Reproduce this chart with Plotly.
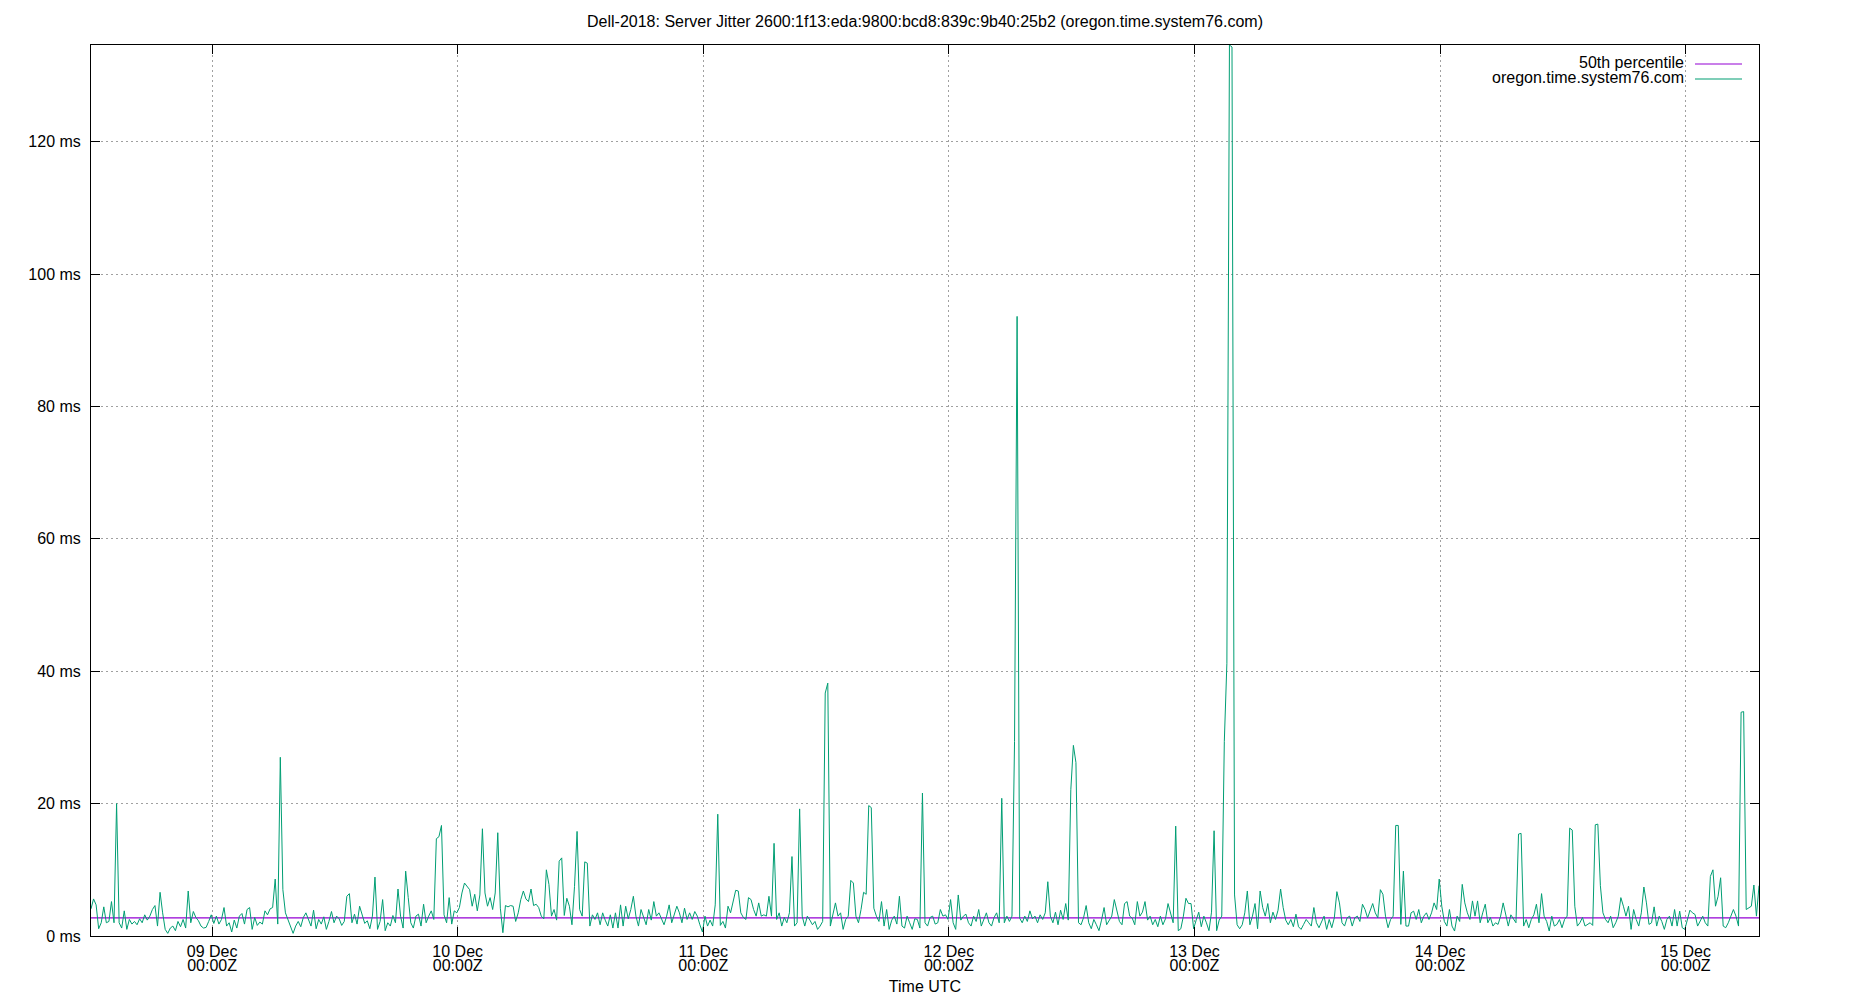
import pandas as pd
import plotly.graph_objects as go

title_text = "Dell-2018: Server Jitter 2600:1f13:eda:9800:bcd8:839c:9b40:25b2 (oregon.time.system76.com)"
series_name = "oregon.time.system76.com"
median_name = "50th percentile"
x_title = "Time UTC"

sample_start = "2018-12-08 12:10"
sample_step = "15min"

# jitter in ms, one list per UTC day
jitter_dec08 = [4.1, 5.6, 4.7, 1.1, 2.0, 4.4, 2.0, 2.2, 5.2, 2.0,
                20.0, 2.0, 1.2, 3.8, 1.0, 2.5, 1.8, 2.2, 1.7, 2.6,
                2.0, 3.2, 2.4, 3.0, 4.0, 4.6, 1.5, 6.6, 3.5, 1.0,
                0.4, 1.2, 1.5, 0.8, 2.2, 1.4, 2.5, 1.2, 6.8, 2.0,
                3.7, 2.8, 2.3, 1.5, 1.2, 1.3, 2.2]
jitter_dec09 = [3.2, 1.9, 3.0, 1.8, 2.5, 4.3, 1.5, 2.0, 0.6, 2.4,
                1.2, 3.0, 3.4, 1.8, 4.0, 4.3, 1.0, 2.8, 1.6, 2.1,
                1.8, 3.8, 3.2, 4.1, 4.3, 8.6, 1.8, 27.0, 7.0, 3.5,
                2.5, 1.5, 0.4, 1.5, 2.2, 1.4, 2.8, 3.5, 2.6, 1.5,
                3.9, 1.1, 2.5, 1.8, 2.9, 1.0, 2.2, 3.7, 2.0, 3.0,
                2.6, 1.6, 2.2, 6.0, 6.4, 2.0, 3.3, 1.8, 4.5, 3.2,
                1.9, 2.3, 1.1, 3.0, 8.9, 1.0, 2.2, 5.5, 0.8, 2.0,
                1.5, 3.1, 2.0, 7.1, 3.0, 1.2, 9.8, 5.8, 2.0, 1.2,
                3.0, 3.3, 1.5, 4.8, 2.0, 3.0, 3.8, 2.5, 14.7, 15.0,
                16.7, 3.2, 2.0, 5.8, 1.8, 3.8]
jitter_dec10 = [3.5, 4.3, 6.5, 8.0, 7.5, 7.0, 4.5, 6.3, 3.8, 6.2,
                16.2, 6.5, 4.5, 5.8, 4.0, 6.5, 15.6, 4.2, 0.5, 4.6,
                4.4, 4.6, 4.5, 2.2, 3.5, 5.5, 6.8, 5.6, 5.2, 7.1,
                4.6, 4.8, 4.3, 3.0, 2.6, 10.0, 7.8, 3.0, 4.0, 2.4,
                11.3, 11.8, 3.1, 5.7, 4.5, 1.7, 7.5, 15.8, 4.0, 3.0,
                11.2, 11.0, 1.5, 3.2, 2.5, 3.5, 1.7, 3.5, 2.4, 1.5,
                3.2, 1.2, 3.5, 1.2, 4.7, 1.5, 4.5, 2.6, 4.0, 6.0,
                3.0, 1.5, 4.0, 2.8, 1.7, 4.0, 2.4, 5.2, 3.0, 3.5,
                2.6, 1.7, 3.0, 4.7, 2.0, 3.2, 4.5, 3.5, 2.0, 4.2,
                2.5, 3.5, 2.5, 3.7, 3.0, 1.7]
jitter_dec11 = [0.6, 3.0, 1.5, 2.4, 1.5, 4.7, 18.4, 1.6, 2.2, 1.2,
                4.5, 3.5, 5.0, 6.9, 6.8, 3.5, 2.8, 2.5, 5.8, 5.5,
                4.0, 3.0, 5.0, 3.0, 3.2, 3.0, 6.0, 3.0, 14.0, 2.5,
                3.5, 1.5, 2.8, 2.0, 3.5, 12.0, 1.5, 2.0, 19.2, 3.0,
                1.5, 3.0, 2.4, 1.7, 2.2, 1.0, 1.5, 2.2, 36.7, 38.2,
                1.5, 3.2, 5.0, 3.0, 3.5, 1.0, 2.5, 3.0, 8.4, 8.0,
                3.0, 2.0, 4.0, 6.6, 6.3, 19.7, 19.4, 4.2, 3.0, 2.2,
                5.2, 1.5, 4.0, 1.0, 2.4, 3.0, 1.8, 6.0, 1.5, 1.2,
                3.0, 2.0, 1.0, 2.6, 2.5, 1.2, 21.6, 2.0, 1.5, 2.8,
                3.0, 1.8, 2.0, 4.0, 3.0, 3.2]
jitter_dec12 = [2.5, 5.5, 2.0, 1.0, 6.2, 2.4, 3.0, 3.3, 2.0, 1.5,
                3.0, 2.2, 4.0, 1.5, 2.5, 3.5, 2.0, 1.5, 2.8, 3.5,
                2.0, 20.8, 2.0, 3.0, 2.2, 3.0, 29.4, 93.6, 2.7, 2.0,
                3.0, 2.2, 3.8, 2.6, 3.0, 2.0, 3.2, 2.5, 3.5, 8.2,
                3.0, 2.0, 3.6, 1.7, 3.9, 2.5, 4.9, 2.4, 22.1, 28.8,
                26.2, 2.0, 1.7, 2.8, 4.6, 2.0, 1.1, 2.5, 1.7, 0.8,
                2.4, 4.3, 1.7, 2.4, 3.0, 5.5, 3.6, 2.2, 1.7, 4.9,
                5.2, 3.0, 2.7, 1.7, 5.2, 3.0, 3.6, 5.2, 2.4, 3.0,
                1.7, 2.5, 1.4, 3.0, 1.7, 2.6, 4.9, 3.6, 2.0, 16.6,
                0.8, 1.1, 3.0, 5.7, 4.9, 4.9]
jitter_dec13 = [1.1, 2.4, 3.6, 1.4, 3.0, 2.0, 0.8, 3.6, 15.9, 0.8,
                2.4, 3.0, 29.4, 41.2, 134.6, 134.3, 6.2, 1.7, 1.1, 1.7,
                3.5, 6.8, 1.7, 3.0, 4.9, 1.1, 6.8, 4.3, 3.0, 4.9,
                2.0, 3.6, 2.5, 3.9, 7.1, 4.3, 2.4, 1.7, 2.5, 1.4,
                3.3, 1.4, 1.0, 1.75, 2.5, 2.0, 1.5, 4.3, 2.0, 1.25,
                2.2, 3.0, 1.0, 2.5, 1.25, 2.75, 6.7, 5.0, 2.0, 1.5,
                2.75, 3.0, 1.5, 2.75, 3.0, 2.2, 4.8, 4.0, 2.75, 4.0,
                4.9, 3.5, 2.75, 7.0, 6.3, 3.0, 1.25, 2.5, 3.0, 16.7,
                16.7, 1.75, 9.8, 1.5, 1.5, 3.5, 3.75, 2.5, 4.0, 2.0,
                3.0, 3.5, 2.5, 3.5, 5.0, 4.0]
jitter_dec14 = [8.6, 4.5, 2.2, 1.5, 4.0, 1.5, 0.75, 3.0, 2.2, 7.8,
                5.0, 3.5, 2.5, 5.3, 3.0, 5.3, 2.0, 3.5, 4.8, 2.0,
                2.8, 1.5, 2.0, 1.75, 3.0, 5.0, 3.0, 1.5, 3.2, 2.5,
                2.0, 15.4, 15.5, 1.5, 2.5, 1.25, 2.5, 3.2, 4.8, 2.0,
                6.4, 3.0, 2.2, 0.75, 3.0, 1.5, 1.75, 2.5, 1.25, 2.5,
                3.0, 16.3, 16.0, 4.5, 1.5, 2.0, 2.8, 1.5, 1.75, 2.0,
                1.6, 16.8, 16.9, 7.6, 3.5, 2.5, 2.0, 3.0, 1.25, 2.0,
                3.0, 5.8, 4.5, 3.0, 4.5, 1.0, 4.0, 2.5, 1.5, 3.5,
                7.4, 5.0, 1.75, 2.0, 4.4, 1.5, 3.0, 2.2, 1.0, 2.5,
                3.0, 1.5, 4.0, 1.5, 3.75, 1.25]
jitter_dec15 = [1.0, 2.5, 3.9, 3.5, 3.25, 1.5, 2.2, 3.0, 2.0, 1.5,
                9.0, 10.0, 4.5, 6.0, 8.8, 1.5, 1.25, 2.0, 3.0, 4.0,
                3.0, 1.5, 33.8, 33.9, 4.0, 4.3, 4.5, 7.7, 3.0, 7.6]

median_ms = 2.73

y_tick_vals = [0, 20, 40, 60, 80, 100, 120]
y_tick_text = ["0 ms", "20 ms", "40 ms", "60 ms", "80 ms", "100 ms", "120 ms"]
x_tick_vals = ["2018-12-09", "2018-12-10", "2018-12-11", "2018-12-12",
               "2018-12-13", "2018-12-14", "2018-12-15"]
x_tick_dates = ["09 Dec", "10 Dec", "11 Dec", "12 Dec", "13 Dec", "14 Dec", "15 Dec"]
x_tick_times = ["00:00Z"] * 7

jitter = (jitter_dec08 + jitter_dec09 + jitter_dec10 + jitter_dec11 +
          jitter_dec12 + jitter_dec13 + jitter_dec14 + jitter_dec15)
times = pd.date_range(sample_start, periods=len(jitter), freq=sample_step)

MEDIAN_COLOR = "#9400d3"
SERIES_COLOR = "#009e73"
FONT = "Liberation Sans"

fig = go.Figure()
fig.add_trace(go.Scatter(x=[times[0], times[-1]], y=[median_ms, median_ms],
                         mode="lines", name=median_name,
                         line=dict(color=MEDIAN_COLOR, width=1.2)))
fig.add_trace(go.Scatter(x=times, y=jitter, mode="lines", name=series_name,
                         line=dict(color=SERIES_COLOR, width=1)))

W, H = 1850, 1000
ML, MR, MT, MB = 91, 91, 45, 64
pw, ph = W - ML - MR, H - MT - MB


def px(x):
    return (x - ML) / pw


def py(y):
    return (H - MB - y) / ph


tickfont = dict(family=FONT, size=16, color="black")
axis_common = dict(showline=True, linecolor="black", linewidth=1, mirror="ticks",
                   ticks="inside", ticklen=9, tickcolor="black", tickwidth=1,
                   showgrid=True, gridcolor="#a0a0a0", gridwidth=1, griddash="2px,3px",
                   zeroline=False, automargin=False, tickfont=tickfont)

fig.update_layout(
    width=W, height=H,
    margin=dict(l=ML, r=MR, t=MT, b=MB, pad=0, autoexpand=False),
    paper_bgcolor="white", plot_bgcolor="white",
    font=dict(family=FONT, size=16, color="black"),
    showlegend=False,
    title=dict(text=title_text, x=0.5, xanchor="center", xref="container",
               y=1 - 21 / H, yref="container", yanchor="middle",
               font=dict(family=FONT, size=16, color="black")),
    xaxis=dict(type="date", range=[times[0], times[-1]], tickmode="array",
               tickvals=x_tick_vals, ticktext=x_tick_dates, ticklabelstandoff=1,
               **axis_common),
    # second row of the time labels, plus the axis title
    xaxis2=dict(type="date", overlaying="x", side="bottom", anchor="y",
                range=[times[0], times[-1]], tickmode="array",
                tickvals=x_tick_vals, ticktext=x_tick_times, ticklabelstandoff=18,
                showline=False, showgrid=False, zeroline=False, ticks="",
                automargin=False, tickfont=tickfont,
                title=dict(text=x_title, standoff=7, font=dict(family=FONT, size=16))),
    yaxis=dict(range=[0, max(jitter)], tickmode="array", tickvals=y_tick_vals,
               ticktext=y_tick_text, ticklabelstandoff=6, **axis_common),
)
# invisible trace so xaxis2 is rendered
fig.add_trace(go.Scatter(x=[times[0]], y=[median_ms], xaxis="x2", mode="lines",
                         hoverinfo="skip", line=dict(width=0), showlegend=False))

# gnuplot-style key: text right-aligned, sample line to its right
legend_rows = [(median_name, MEDIAN_COLOR, 62.5), (series_name, SERIES_COLOR, 77.5)]
for label, color, yc in legend_rows:
    fig.add_annotation(text=label, xref="paper", yref="paper", x=px(1686), y=py(yc),
                       xanchor="right", yanchor="middle", showarrow=False,
                       font=dict(family=FONT, size=16, color="black"))
    fig.add_shape(type="line", xref="paper", yref="paper", x0=px(1695), x1=px(1742),
                  y0=py(yc + 1.5), y1=py(yc + 1.5), line=dict(color=color, width=1.2))

fig.write_html("out.html", config={"displayModeBar": False},
               post_script="document.body.style.margin='0';")
